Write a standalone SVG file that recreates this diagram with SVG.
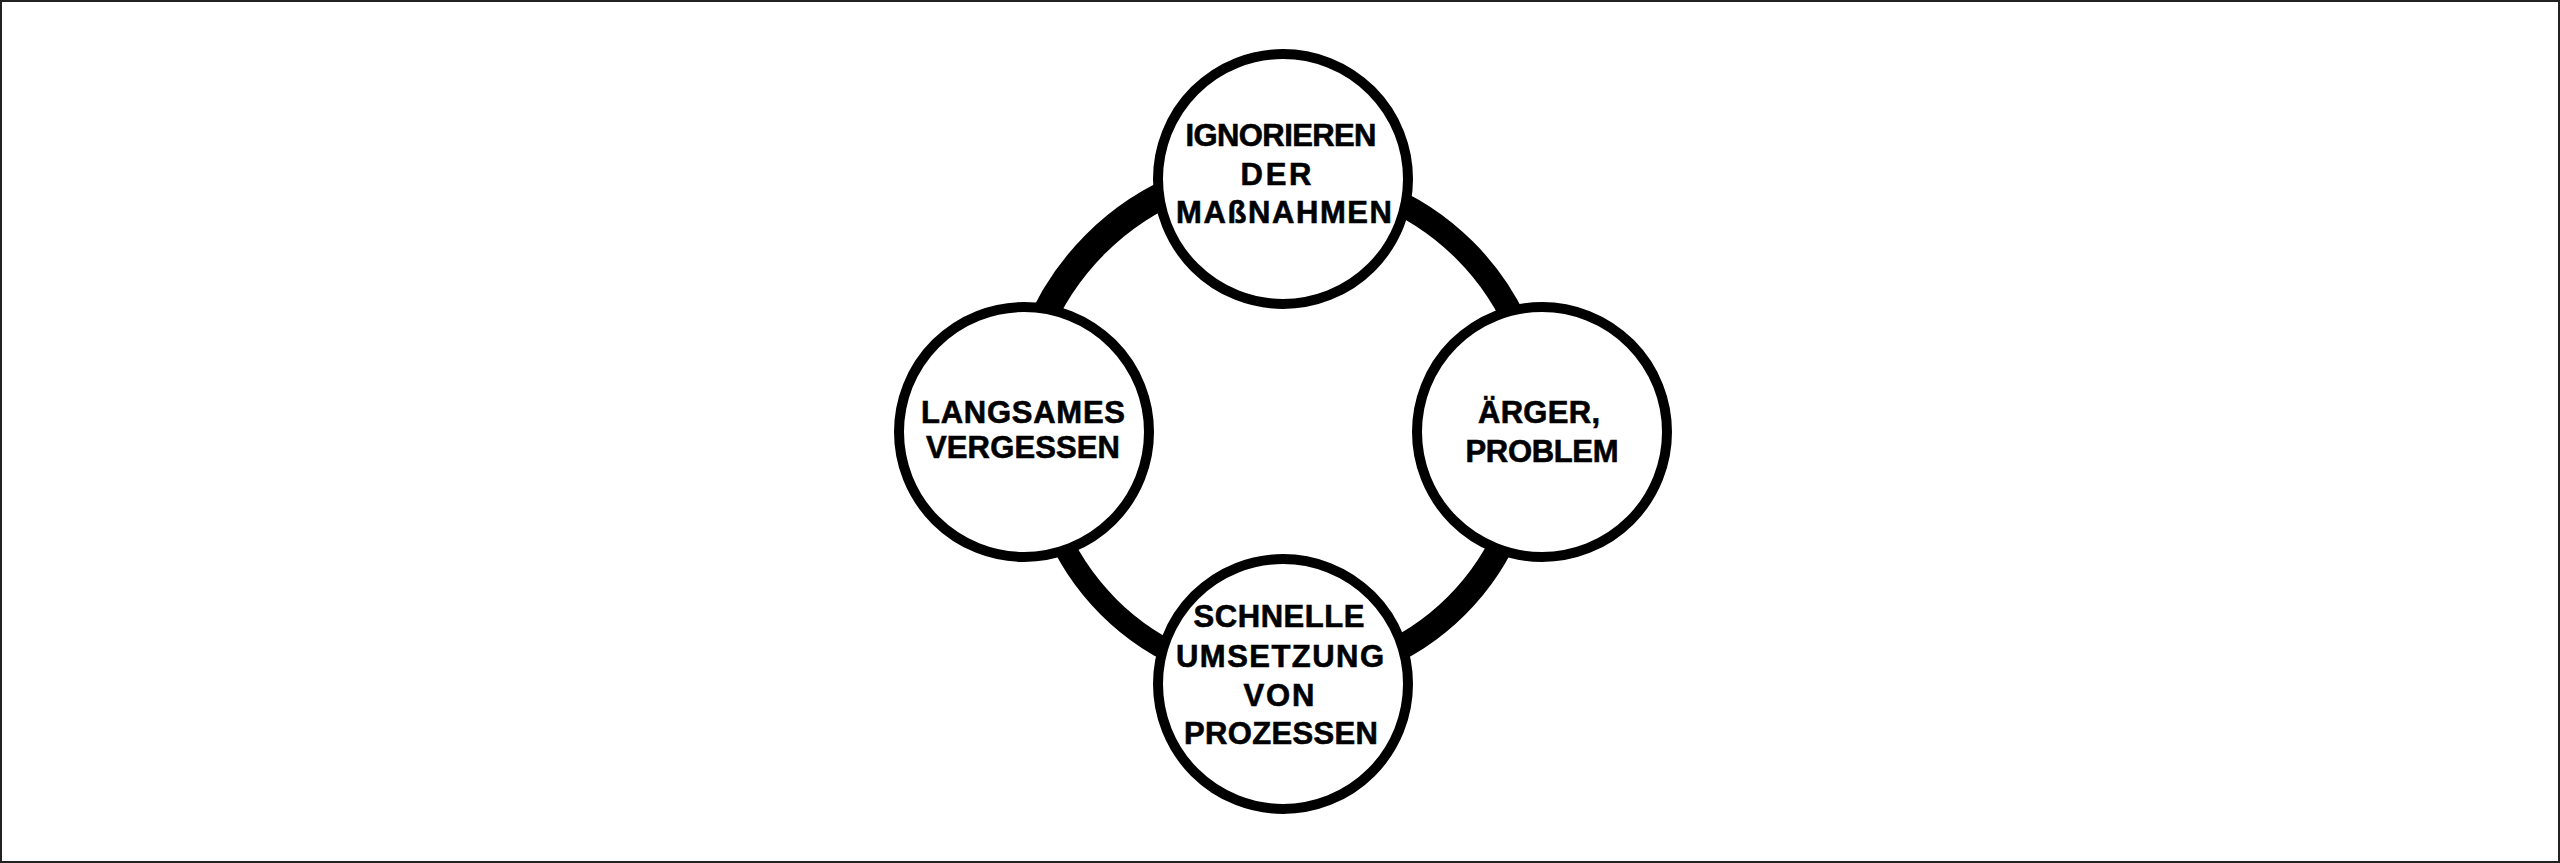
<svg xmlns="http://www.w3.org/2000/svg" width="2560" height="863" viewBox="0 0 2560 863">
  <style>
    .frame { fill: #ffffff; stroke: #222222; stroke-width: 2; }
    .node { fill: #ffffff; stroke: #000000; stroke-width: 10; }
    .conn { fill: none; stroke: #000000; stroke-linecap: butt; }
    .lbl { font-family: "Liberation Sans", Arial, sans-serif; font-weight: bold; font-size: 31px; fill: #000000; stroke: #000000; stroke-width: 0.6; text-anchor: middle; }
  </style>
  <rect class="frame" x="1" y="1" width="2558" height="861"/>
  <g id="connectors">
    <path class="conn" stroke-width="27" d="M 1017.5 432 A 265.5 265.5 0 0 1 1283 166.5"/>
    <path class="conn" stroke-width="24" d="M 1283 175 A 257 257 0 0 1 1540 432"/>
    <path class="conn" stroke-width="25" d="M 1528.5 432 A 245.5 245.5 0 0 1 1283 677.5"/>
    <path class="conn" stroke-width="22" d="M 1283 679 A 247 247 0 0 1 1036 432"/>
  </g>
  <g id="node-top">
    <circle class="node" cx="1283" cy="179" r="125"/>
    <text class="lbl" x="1281" y="145.5" textLength="191" lengthAdjust="spacing">IGNORIEREN</text>
    <text class="lbl" x="1276" y="184.5" textLength="71" lengthAdjust="spacing">DER</text>
    <text class="lbl" x="1284" y="223" textLength="216" lengthAdjust="spacing">MAßNAHMEN</text>
  </g>
  <g id="node-right">
    <circle class="node" cx="1542" cy="432" r="125"/>
    <text class="lbl" x="1539" y="423" textLength="122" lengthAdjust="spacing">ÄRGER,</text>
    <text class="lbl" x="1542" y="461.5" textLength="153" lengthAdjust="spacing">PROBLEM</text>
  </g>
  <g id="node-bottom">
    <circle class="node" cx="1283" cy="684" r="125"/>
    <text class="lbl" x="1279" y="627" textLength="171" lengthAdjust="spacing">SCHNELLE</text>
    <text class="lbl" x="1280" y="667" textLength="208" lengthAdjust="spacing">UMSETZUNG</text>
    <text class="lbl" x="1279" y="705.5" textLength="71" lengthAdjust="spacing">VON</text>
    <text class="lbl" x="1281" y="744" textLength="194" lengthAdjust="spacing">PROZESSEN</text>
  </g>
  <g id="node-left">
    <circle class="node" cx="1024" cy="432" r="125"/>
    <text class="lbl" x="1023" y="422.5" textLength="204" lengthAdjust="spacing">LANGSAMES</text>
    <text class="lbl" x="1023" y="457.5" textLength="194" lengthAdjust="spacing">VERGESSEN</text>
  </g>
</svg>
